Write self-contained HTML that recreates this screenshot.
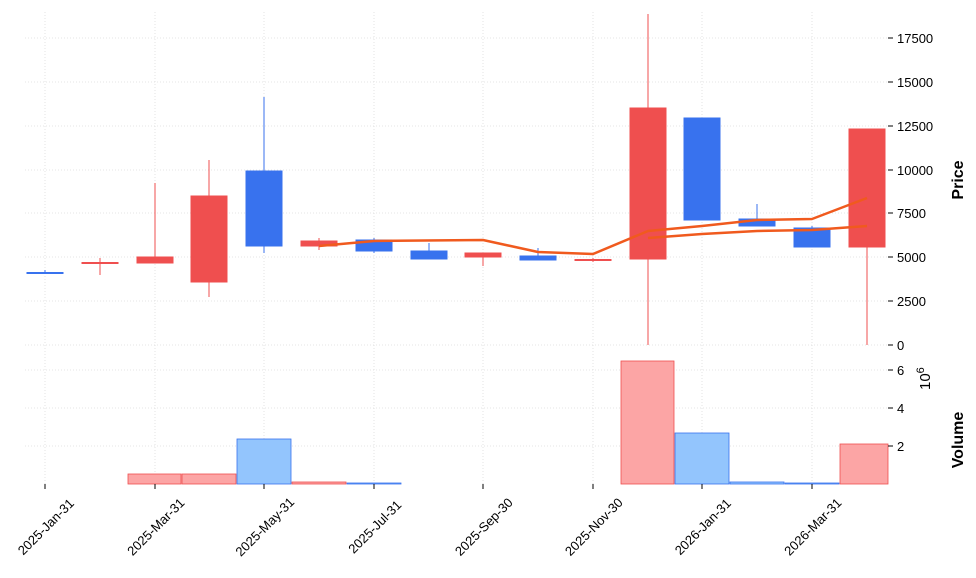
<!DOCTYPE html>
<html><head><meta charset="utf-8"><style>body{margin:0;background:#fff}svg{display:block;font-family:"Liberation Sans",sans-serif}</style></head><body>
<svg width="976" height="578" viewBox="0 0 976 578">
<g stroke="#ddd" stroke-dasharray="1,2" stroke-width="0.8">
<line x1="25" x2="888" y1="38" y2="38"/><line x1="25" x2="888" y1="82" y2="82"/><line x1="25" x2="888" y1="126" y2="126"/><line x1="25" x2="888" y1="170" y2="170"/><line x1="25" x2="888" y1="213" y2="213"/><line x1="25" x2="888" y1="257" y2="257"/><line x1="25" x2="888" y1="301" y2="301"/><line x1="25" x2="888" y1="345" y2="345"/>
<line x1="25" x2="888" y1="370" y2="370"/><line x1="25" x2="888" y1="408" y2="408"/><line x1="25" x2="888" y1="446" y2="446"/>
<g><line x1="45" x2="45" y1="12" y2="484"/><line x1="155" x2="155" y1="12" y2="484"/><line x1="264" x2="264" y1="12" y2="484"/><line x1="374" x2="374" y1="12" y2="484"/><line x1="483" x2="483" y1="12" y2="484"/><line x1="593" x2="593" y1="12" y2="484"/><line x1="702" x2="702" y1="12" y2="484"/><line x1="812" x2="812" y1="12" y2="484"/></g>
</g>
<g stroke-width="0.8">
<rect x="128" y="474" width="53" height="10" fill="#fca5a5" stroke="#ef4f4f"/>
<rect x="182" y="474" width="54" height="10" fill="#fca5a5" stroke="#ef4f4f"/>
<rect x="237" y="439" width="54" height="45" fill="#93c5fd" stroke="#3872ee"/>
<rect x="292" y="482" width="54" height="2" fill="#fca5a5" stroke="#ef4f4f"/>
<rect x="347" y="483" width="54" height="1" fill="#93c5fd" stroke="#3872ee"/>
<rect x="621" y="361" width="53" height="123" fill="#fca5a5" stroke="#ef4f4f"/>
<rect x="675" y="433" width="54" height="51" fill="#93c5fd" stroke="#3872ee"/>
<rect x="730" y="482" width="54" height="2" fill="#93c5fd" stroke="#3872ee"/>
<rect x="785" y="483" width="54" height="1" fill="#93c5fd" stroke="#3872ee"/>
<rect x="840" y="444" width="48" height="40" fill="#fca5a5" stroke="#ef4f4f"/>
</g>
<g stroke-width="1">
<g stroke="#3872ee" fill="#3872ee"><line x1="45" x2="45" y1="270" y2="274"/><rect x="27" y="272.5" width="36" height="1"/></g>
<g stroke="#ef4f4f" fill="#ef4f4f"><line x1="100" x2="100" y1="258" y2="275"/><rect x="82" y="262.5" width="36" height="1"/></g>
<g stroke="#ef4f4f" fill="#ef4f4f"><line x1="155" x2="155" y1="183" y2="263"/><rect x="137" y="257" width="36" height="6"/></g>
<g stroke="#ef4f4f" fill="#ef4f4f"><line x1="209" x2="209" y1="160" y2="297"/><rect x="191" y="196" width="36" height="86"/></g>
<g stroke="#3872ee" fill="#3872ee"><line x1="264" x2="264" y1="97" y2="253"/><rect x="246" y="171" width="36" height="75"/></g>
<g stroke="#ef4f4f" fill="#ef4f4f"><line x1="319" x2="319" y1="238" y2="250"/><rect x="301" y="241" width="36" height="5"/></g>
<g stroke="#3872ee" fill="#3872ee"><line x1="374" x2="374" y1="238" y2="253"/><rect x="356" y="240" width="36" height="11"/></g>
<g stroke="#3872ee" fill="#3872ee"><line x1="429" x2="429" y1="243" y2="259"/><rect x="411" y="251" width="36" height="8"/></g>
<g stroke="#ef4f4f" fill="#ef4f4f"><line x1="483" x2="483" y1="253" y2="266"/><rect x="465" y="253" width="36" height="4"/></g>
<g stroke="#3872ee" fill="#3872ee"><line x1="538" x2="538" y1="248" y2="260"/><rect x="520" y="256" width="36" height="4"/></g>
<g stroke="#ef4f4f" fill="#ef4f4f"><line x1="593" x2="593" y1="258" y2="262"/><rect x="575" y="259.5" width="36" height="1"/></g>
<g stroke="#ef4f4f" fill="#ef4f4f"><line x1="648" x2="648" y1="14" y2="345"/><rect x="630" y="108" width="36" height="151"/></g>
<g stroke="#3872ee" fill="#3872ee"><line x1="702" x2="702" y1="118" y2="220"/><rect x="684" y="118" width="36" height="102"/></g>
<g stroke="#3872ee" fill="#3872ee"><line x1="757" x2="757" y1="204" y2="226"/><rect x="739" y="219" width="36" height="7"/></g>
<g stroke="#3872ee" fill="#3872ee"><line x1="812" x2="812" y1="226" y2="247"/><rect x="794" y="228" width="36" height="19"/></g>
<g stroke="#ef4f4f" fill="#ef4f4f"><line x1="867" x2="867" y1="129" y2="345"/><rect x="849" y="129" width="36" height="118"/></g>
</g>
<g fill="none" stroke="#f05a1e" stroke-width="2.5" stroke-linejoin="round">
<polyline points="319,246 374,241 483,240 538,252 593,254 648,231 702,226 757,220 812,219 867,198"/>
<polyline points="648,238 702,234 757,231 812,230 867,226"/>
</g>
<g font-size="13" fill="#000">
<g stroke="#000"><line x1="888" x2="893" y1="38" y2="38"/><line x1="888" x2="893" y1="82" y2="82"/><line x1="888" x2="893" y1="126" y2="126"/><line x1="888" x2="893" y1="170" y2="170"/><line x1="888" x2="893" y1="213" y2="213"/><line x1="888" x2="893" y1="257" y2="257"/><line x1="888" x2="893" y1="301" y2="301"/><line x1="888" x2="893" y1="345" y2="345"/><line x1="888" x2="893" y1="370" y2="370"/><line x1="888" x2="893" y1="408" y2="408"/><line x1="888" x2="893" y1="446" y2="446"/></g>
<text x="897" y="43">17500</text><text x="897" y="87">15000</text><text x="897" y="131">12500</text><text x="897" y="175">10000</text><text x="897" y="218">7500</text><text x="897" y="262">5000</text><text x="897" y="306">2500</text><text x="897" y="350">0</text>
<text x="897" y="375">6</text><text x="897" y="413">4</text><text x="897" y="451">2</text>
<text font-weight="bold" font-size="16" transform="translate(963,180) rotate(-90)" text-anchor="middle">Price</text>
<text font-weight="bold" font-size="16" transform="translate(963,440) rotate(-90)" text-anchor="middle">Volume</text>
<text font-size="15" transform="translate(930,390) rotate(-90)">10<tspan font-size="11" dy="-6">6</tspan></text>
</g>
<g stroke="#000"><line x1="45" x2="45" y1="484" y2="489"/><line x1="155" x2="155" y1="484" y2="489"/><line x1="264" x2="264" y1="484" y2="489"/><line x1="374" x2="374" y1="484" y2="489"/><line x1="483" x2="483" y1="484" y2="489"/><line x1="593" x2="593" y1="484" y2="489"/><line x1="702" x2="702" y1="484" y2="489"/><line x1="812" x2="812" y1="484" y2="489"/></g>
<g font-size="13" text-anchor="middle">
<text transform="translate(49,530) rotate(-45)">2025-Jan-31</text>
<text transform="translate(159,530) rotate(-45)">2025-Mar-31</text>
<text transform="translate(268,530) rotate(-45)">2025-May-31</text>
<text transform="translate(378,530) rotate(-45)">2025-Jul-31</text>
<text transform="translate(487,530) rotate(-45)">2025-Sep-30</text>
<text transform="translate(597,530) rotate(-45)">2025-Nov-30</text>
<text transform="translate(706,530) rotate(-45)">2026-Jan-31</text>
<text transform="translate(816,530) rotate(-45)">2026-Mar-31</text>
</g>
</svg>
</body></html>
